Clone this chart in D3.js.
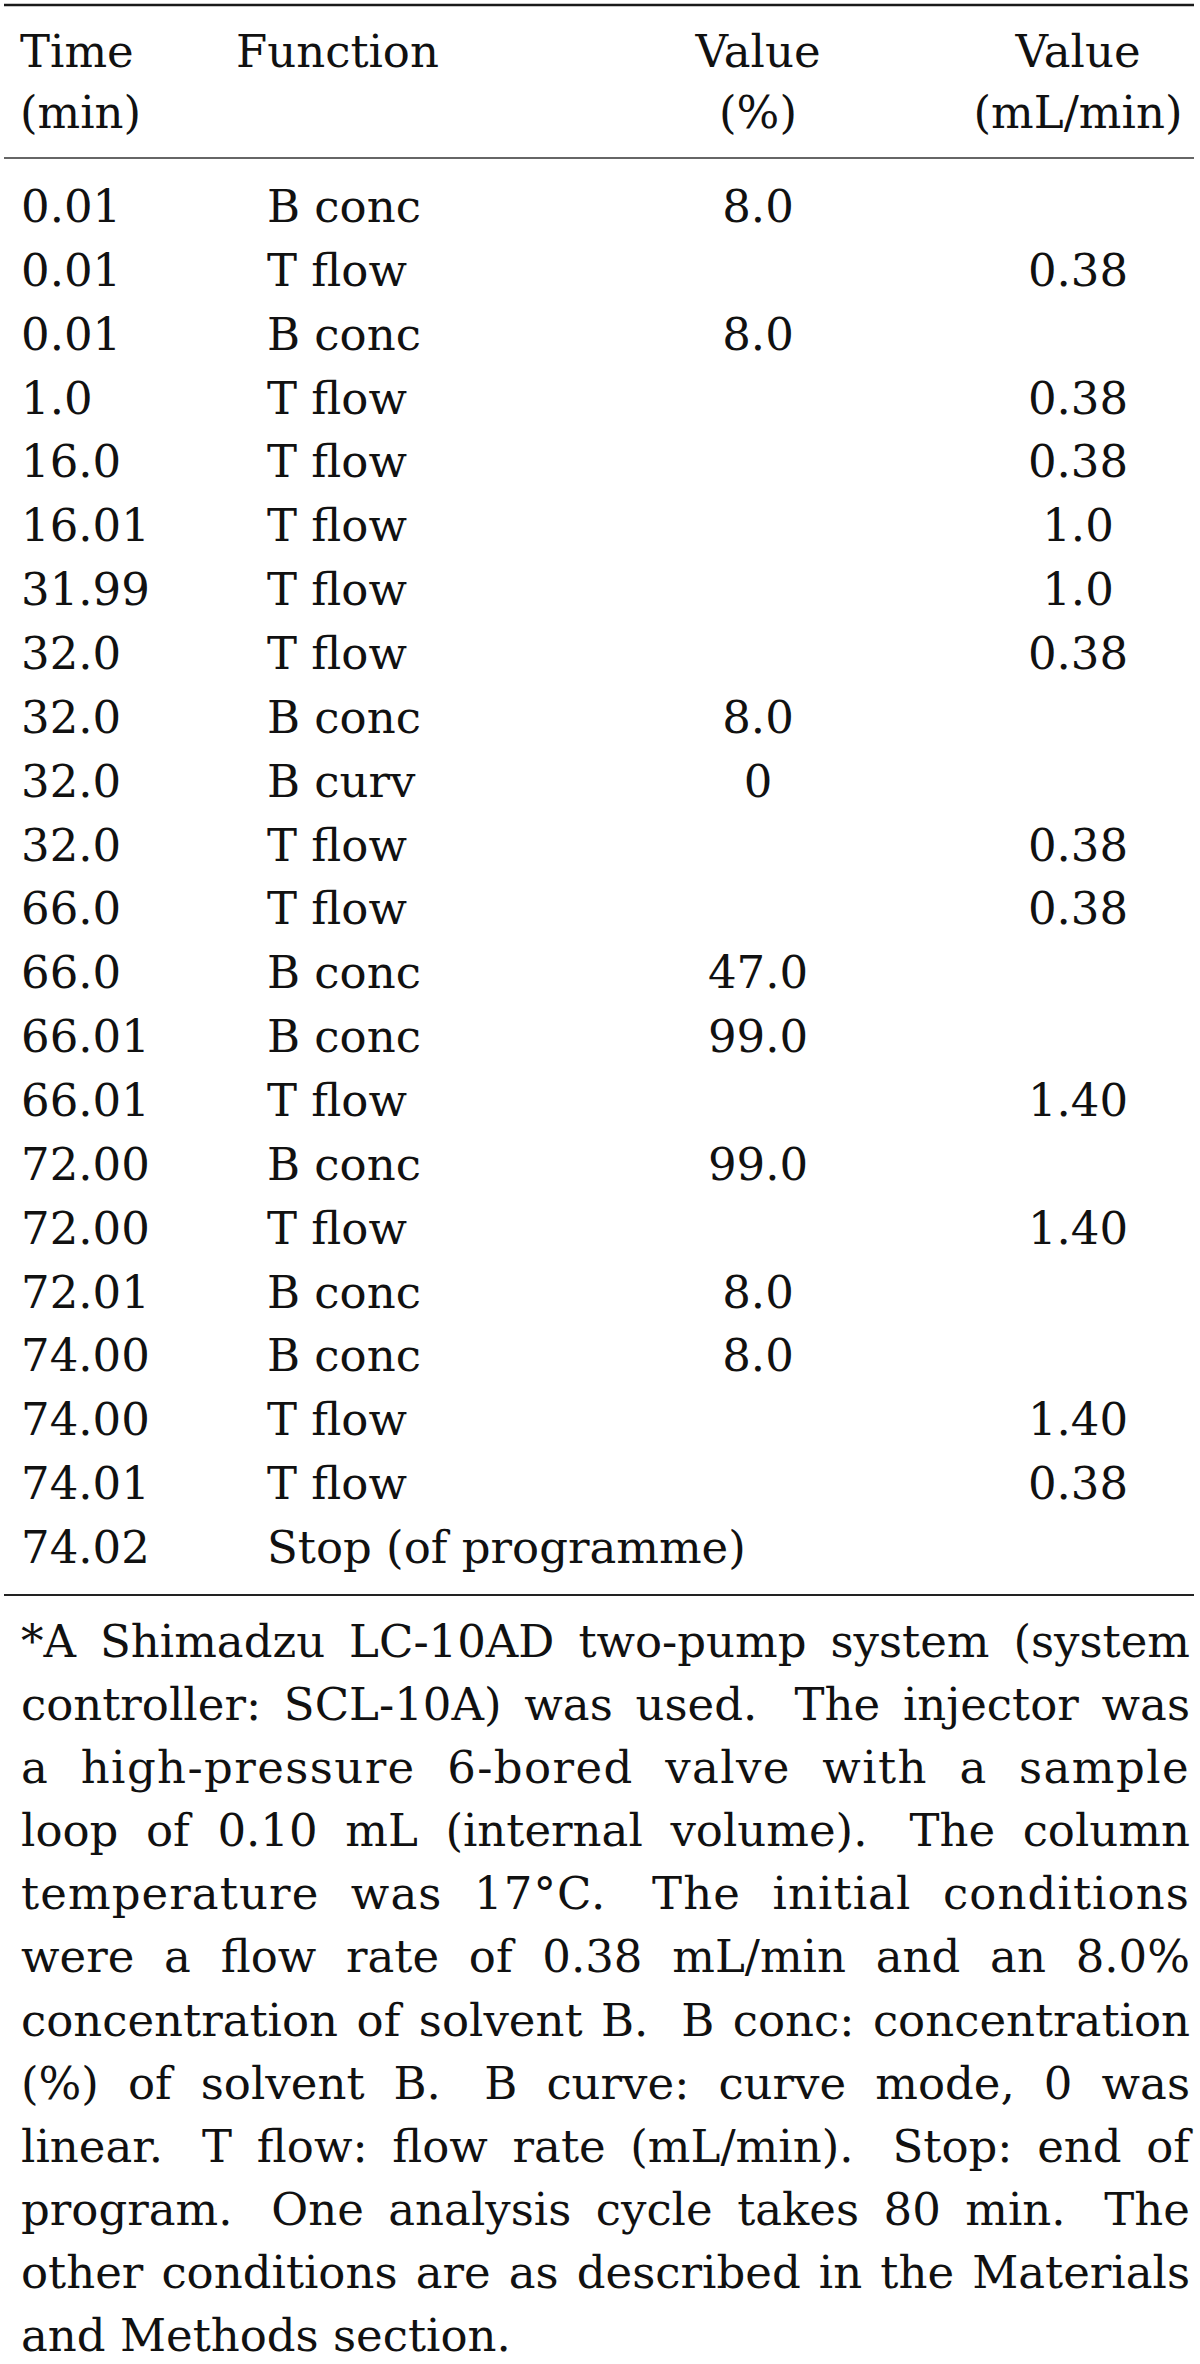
<!DOCTYPE html>
<html>
<head>
<meta charset="utf-8">
<script src="https://cdn.jsdelivr.net/npm/d3@7"></script>
<style>
  body { margin: 0; background: #fff; }
  text { font-family: "DejaVu Serif", serif; fill: #111; }
</style>
</head>
<body>
<div id="chart"></div>
<script>
// table rows
const times = ["0.01", "0.01", "0.01", "1.0", "16.0", "16.01", "31.99", "32.0", "32.0", "32.0", "32.0",
  "66.0", "66.0", "66.01", "66.01", "72.00", "72.00", "72.01", "74.00", "74.00", "74.01", "74.02"];
const functions = ["B conc", "T flow", "B conc", "T flow", "T flow", "T flow", "T flow", "T flow", "B conc", "B curv", "T flow",
  "T flow", "B conc", "B conc", "T flow", "B conc", "T flow", "B conc", "B conc", "T flow", "T flow", "Stop (of programme)"];
const percentValues = ["8.0", "", "8.0", "", "", "", "", "", "8.0", "0", "",
  "", "47.0", "99.0", "", "99.0", "", "8.0", "8.0", "", "", ""];
const flowValues = ["", "0.38", "", "0.38", "0.38", "1.0", "1.0", "0.38", "", "", "0.38",
  "0.38", "", "", "1.40", "", "1.40", "", "", "1.40", "0.38", ""];

const headerTop = ["Time", "Function", "Value", "Value"];
const headerBottom = ["(min)", "", "(%)", "(mL/min)"];

const footnote = [
  "*A Shimadzu LC-10AD two-pump system (system",
  "controller: SCL-10A) was used.  The injector was",
  "a high-pressure 6-bored valve with a sample",
  "loop of 0.10 mL (internal volume).  The column",
  "temperature was 17°C.  The initial conditions",
  "were a flow rate of 0.38 mL/min and an 8.0%",
  "concentration of solvent B.  B conc: concentration",
  "(%) of solvent B.  B curve: curve mode, 0 was",
  "linear.  T flow: flow rate (mL/min).  Stop: end of",
  "program.  One analysis cycle takes 80 min.  The",
  "other conditions are as described in the Materials",
  "and Methods section."
];

const width = 1200;
const height = 2364;
const fontSize = 45;

const svg = d3.select("#chart")
  .append("svg")
  .attr("width", width)
  .attr("height", height)
  .attr("viewBox", [0, 0, width, height])
  .style("display", "block");

svg.append("rect").attr("width", width).attr("height", height).attr("fill", "#fff");

const columns = ["time", "function", "percent", "flow"];
const colX = d3.scaleOrdinal().domain(columns).range([21, 267, 758, 1078]);
const headX = d3.scaleOrdinal().domain(columns).range([20, 236, 758, 1078]);
const anchor = d3.scaleOrdinal().domain(columns).range(["start", "start", "middle", "middle"]);

const headY = d3.scaleLinear().domain([0, 1]).range([67, 128]);
const rowY = d3.scaleLinear().domain([0, times.length - 1]).range([222, 1563]);
const noteY = d3.scaleLinear().domain([0, footnote.length - 1]).range([1657, 2351]);

// rules
const rules = [
  { y: 5, w: 2.6, c: "#1a1a1a" },
  { y: 158, w: 2, c: "#666" },
  { y: 1595, w: 1.8, c: "#222" }
];
svg.append("g")
  .selectAll("line")
  .data(rules)
  .join("line")
  .attr("x1", 4)
  .attr("x2", 1194)
  .attr("y1", d => d.y)
  .attr("y2", d => d.y)
  .attr("stroke", d => d.c)
  .attr("stroke-width", d => d.w);

// header
const head = svg.append("g").attr("font-size", fontSize);
[headerTop, headerBottom].forEach((line, li) => {
  head.append("g")
    .selectAll("text")
    .data(columns.map((c, i) => ({ col: c, text: line[i] })).filter(d => d.text))
    .join("text")
    .attr("x", d => headX(d.col))
    .attr("y", headY(li))
    .attr("text-anchor", d => anchor(d.col))
    .text(d => d.text);
});

// body rows
const rows = times.map((t, i) => ({
  i, time: t, function: functions[i], percent: percentValues[i], flow: flowValues[i]
}));

const body = svg.append("g").attr("font-size", fontSize);
body.selectAll("g")
  .data(rows)
  .join("g")
  .attr("transform", d => `translate(0,${rowY(d.i)})`)
  .selectAll("text")
  .data(d => columns.map(c => ({ col: c, text: d[c] })).filter(c => c.text))
  .join("text")
  .attr("x", d => colX(d.col))
  .attr("text-anchor", d => anchor(d.col))
  .text(d => d.text);

// footnote, justified between left and right edge
const noteLeft = 21, noteRight = 1190;
const note = svg.append("g").attr("font-size", fontSize);
const probe = note.append("text").attr("x", -9999).attr("y", -9999);
function measure(s) {
  probe.text(s);
  return probe.node().getComputedTextLength();
}
const spaceW = measure("x x") - measure("xx");

footnote.forEach((line, li) => {
  const parts = line.split(/( +)/);
  const words = parts.filter((p, k) => k % 2 === 0);
  const gaps = parts.filter((p, k) => k % 2 === 1).map(g => g.length);
  const wordW = words.map(measure);
  const t = note.append("text").attr("y", noteY(li));
  const last = li === footnote.length - 1;
  const natural = d3.sum(wordW) + d3.sum(gaps) * spaceW;
  let extra = last ? 0 : (noteRight - noteLeft) - natural;
  let ls = 0;
  const nChars = d3.sum(words, w => w.length);
  // too much stretch in the gaps: move part of it into letter spacing
  const maxGap = spaceW * 1.2;
  if (gaps.length && extra / gaps.length > maxGap) {
    const rest = extra - maxGap * gaps.length;
    ls = rest / nChars;
    extra = maxGap * gaps.length;
  }
  if (extra < 0 && gaps.length) {
    ls = extra / (nChars + gaps.length * 2);
    extra = ls * gaps.length * 2;
  }
  const perGap = gaps.length ? extra / gaps.length : 0;
  let x = noteLeft;
  words.forEach((w, k) => {
    t.append("tspan")
      .attr("x", x)
      .attr("letter-spacing", ls ? ls.toFixed(3) : null)
      .text(w);
    x += wordW[k] + ls * w.length;
    if (k < gaps.length) x += gaps[k] * spaceW + perGap;
  });
});
probe.remove();
</script>
</body>
</html>
